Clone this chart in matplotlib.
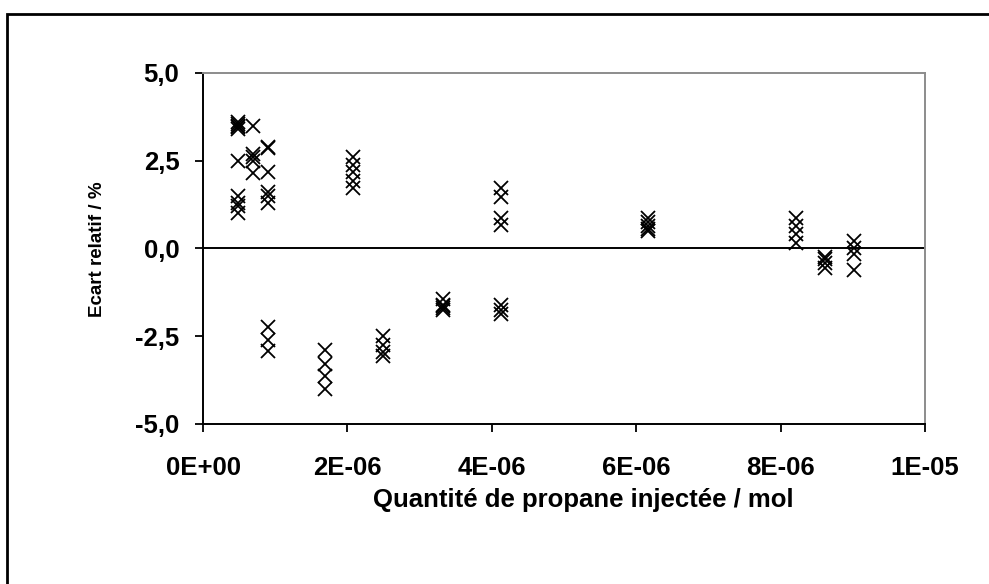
import matplotlib.pyplot as plt
from matplotlib.patches import Rectangle
from matplotlib.ticker import FuncFormatter

plt.rcParams["font.family"] = ["Liberation Sans", "DejaVu Sans"]
plt.rcParams["font.weight"] = "bold"

# injected amounts (mol) and the relative deviations (%) measured at each one
n_inj = [4.85e-7, 6.9e-7, 9.0e-7, 9.0e-7, 1.69e-6, 2.08e-6, 2.49e-6,
         3.32e-6, 4.13e-6, 4.13e-6, 6.16e-6, 8.21e-6, 8.61e-6, 9.02e-6]
ecarts = [
    [3.6, 3.55, 3.5, 3.45, 3.4, 2.48, 1.5, 1.3, 1.2, 1.0],
    [3.5, 2.68, 2.6, 2.5, 2.15],
    [2.9, 2.85, 2.17, 1.6, 1.5, 1.3],
    [-2.25, -2.6, -2.92],
    [-2.88, -3.28, -3.62, -3.99],
    [2.6, 2.38, 2.18, 1.92, 1.72],
    [-2.5, -2.75, -2.95, -3.05],
    [-1.45, -1.6, -1.65, -1.7, -1.75],
    [-1.6, -1.75, -1.88],
    [1.71, 1.48, 0.88, 0.66],
    [0.88, 0.75, 0.65, 0.56, 0.5],
    [0.86, 0.65, 0.4, 0.17],
    [-0.25, -0.3, -0.4, -0.55],
    [0.2, 0.0, -0.15, -0.62],
]

fig = plt.figure(figsize=(9.89, 5.84), dpi=100)
ax = fig.add_axes([0.2053, 0.274, 0.73, 0.601])

for n, ys in zip(n_inj, ecarts):
    ax.plot([n] * len(ys), ys, linestyle="none", marker="x", color="black",
            markersize=10, markeredgewidth=1.3, clip_on=False)

ax.axhline(0, color="black", lw=1.4, zorder=1)

ax.set_xlim(0, 1e-5)
ax.set_ylim(-5, 5)
ax.set_xticks([0, 2e-6, 4e-6, 6e-6, 8e-6, 1e-5])
ax.set_yticks([-5, -2.5, 0, 2.5, 5])
ax.xaxis.set_major_formatter(FuncFormatter(lambda v, p: f"{v:.0E}"))
ax.yaxis.set_major_formatter(
    FuncFormatter(lambda v, p: f"{v:.1f}".replace(".", ",")))
ax.tick_params(axis="both", labelsize=18.5, width=1.3, length=6,
               direction="out", colors="black")
ax.tick_params(axis="x", pad=17)
ax.tick_params(axis="y", pad=11)

for side in ["left", "bottom"]:
    ax.spines[side].set_color("black")
    ax.spines[side].set_linewidth(1.4)
for side in ["top", "right"]:
    ax.spines[side].set_color("#8c8c8c")
    ax.spines[side].set_linewidth(1.4)

fig.text(97 / 989, 1 - 249 / 584, "Ecart relatif / %", rotation=90,
         ha="center", va="center", fontsize=13.5, fontweight="bold")
fig.text(583 / 989, 1 - 500 / 584, "Quantité de propane injectée / mol",
         ha="center", va="center", fontsize=18.5, fontweight="bold")

# chart-area frame, open on the right and bottom edges
fig.add_artist(Rectangle((7 / 989, -0.1), 1.2, 1 - 14.5 / 584 + 0.1,
                         transform=fig.transFigure, fill=False,
                         edgecolor="black", lw=2, clip_on=False))

fig.savefig("out.png", dpi=100)
